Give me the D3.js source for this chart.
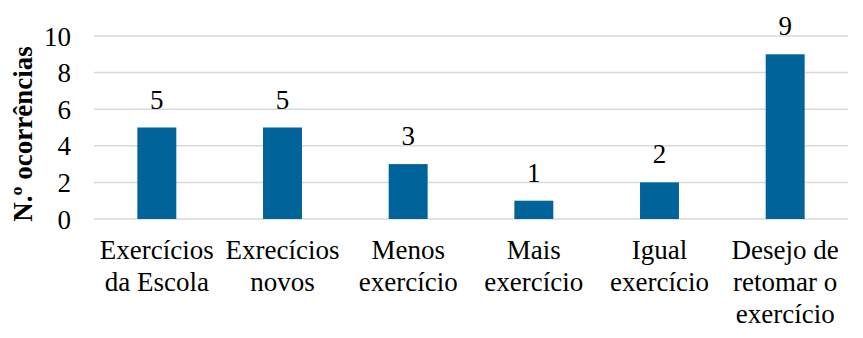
<!DOCTYPE html>
<html>
<head>
<meta charset="utf-8">
<script src="https://cdn.jsdelivr.net/npm/d3@7"></script>
<style>
  body { margin: 0; background: #fff; }
  svg text { font-family: 'Liberation Serif', 'Times New Roman', serif; font-size: 27px; fill: #000; }
</style>
</head>
<body>
<div id="chart"></div>
<script>
const categories = [
  'Exercícios\nda Escola',
  'Exrecícios\nnovos',
  'Menos\nexercício',
  'Mais\nexercício',
  'Igual\nexercício',
  'Desejo de\nretomar o\nexercício'
];
const values = [5, 5, 3, 1, 2, 9];
const yTicks = [0, 2, 4, 6, 8, 10];
const yLabel = 'N.º ocorrências';

const totalW = 863, totalH = 338;
const margin = { top: 36, right: 15, bottom: 119, left: 94 };
const W = totalW - margin.left - margin.right;
const H = totalH - margin.top - margin.bottom;

const svg = d3.select('#chart').append('svg')
  .attr('width', totalW).attr('height', totalH);

const g = svg.append('g').attr('transform', `translate(${margin.left},${margin.top})`);

const x = d3.scaleBand().domain(categories).range([0, W]).paddingInner(0.69).paddingOuter(0.345);
const y = d3.scaleLinear().domain([0, 10]).range([H, 0]);

// Grid
g.append('g').selectAll('line')
  .data(yTicks).enter().append('line')
  .attr('x1', 0).attr('x2', W)
  .attr('y1', d => y(d)).attr('y2', d => y(d))
  .attr('stroke', '#D9D9D9').attr('stroke-width', 1.5);

// Y axis
const yAxis = g.append('g').call(d3.axisLeft(y).tickValues(yTicks).tickSize(0).tickPadding(23));
yAxis.attr('font-family', null).attr('font-size', null);
yAxis.select('.domain').remove();
yAxis.selectAll('text').attr('dy', '0.34em');

// X axis labels
const xAxis = g.append('g').attr('transform', `translate(0,${H})`)
  .call(d3.axisBottom(x).tickSize(0));
xAxis.attr('font-family', null).attr('font-size', null);
xAxis.select('.domain').remove();
xAxis.selectAll('.tick text')
  .each(function(d) {
    const el = d3.select(this);
    el.text('').attr('y', 0).attr('dy', null);
    d.split('\n').forEach((line, i) => {
      el.append('tspan').attr('x', 0).attr('y', 40 + i * 32).text(line);
    });
  });

// Bars
g.selectAll('.bar')
  .data(categories).enter().append('rect')
  .attr('class', 'bar')
  .attr('x', d => x(d))
  .attr('width', x.bandwidth())
  .attr('y', (d, i) => y(values[i]))
  .attr('height', (d, i) => H - y(values[i]))
  .attr('fill', '#00639A');

// Value labels
g.selectAll('.val')
  .data(categories).enter().append('text')
  .attr('x', d => x(d) + x.bandwidth() / 2)
  .attr('y', (d, i) => y(values[i]) - 19)
  .attr('text-anchor', 'middle')
  .text((d, i) => values[i]);

// Y label
svg.append('text')
  .attr('transform', `translate(32,134) rotate(-90)`)
  .attr('text-anchor', 'middle')
  .style('font-weight', 'bold')
  .text(yLabel);
</script>
</body>
</html>
